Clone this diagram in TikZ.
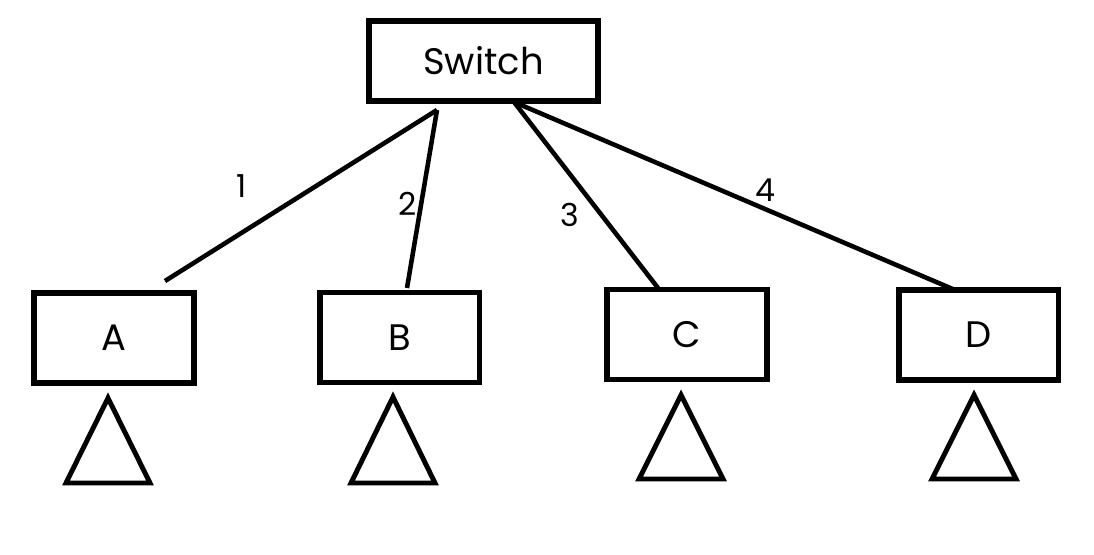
\documentclass[tikz,border=0pt]{standalone}
\usepackage{fontspec}
\setmainfont{Poppins}
\begin{document}
\begin{tikzpicture}[x=0.02cm,y=-0.02cm,
    box/.style={draw,line width=3.4pt,minimum width=3.2cm,minimum height=1.8cm,font=\fontsize{21}{24}\selectfont},
    link/.style={line width=2.6pt},
    tri/.style={line width=2.8pt,line join=miter},
    num/.style={font=\fontsize{18}{20}\selectfont}]
  \useasboundingbox (0,0) rectangle (1094,554);
  \node[box,minimum width=4.58cm,minimum height=1.6cm] (sw) at (483.5,61) {Switch};
  \node[box] (A) at (114,338) {A};
  \node[box] (B) at (399.5,337.5) {B};
  \node[box] (C) at (687,334.5) {C};
  \node[box] (D) at (978.5,335) {D};
  % link ends
  \coordinate (s1) at (437,110);
  \coordinate (s2) at (514,102);
  \coordinate (a1) at (165,281);
  \coordinate (b1) at (407,288);
  \coordinate (c1) at (658,288);
  \coordinate (d1) at (955,290);
  \draw[link] (s1) -- (a1);
  \draw[link] (s1) -- (b1);
  \draw[link] (s2) -- (c1);
  \draw[link] (s2) -- (d1);
  \node[num] (l1) at (242,186) {1};
  \node[num] (l2) at (408,204) {2};
  \node[num] (l3) at (570,215) {3};
  \node[num] (l4) at (765,190) {4};
  % triangles below the boxes
  \foreach \x/\top/\bot in {108/398/483, 393/397/483, 681/395/479, 974/395/479}
    \draw[tri] (\x,\top) -- (\x+42,\bot) -- (\x-42,\bot) -- cycle;
\end{tikzpicture}
\end{document}
